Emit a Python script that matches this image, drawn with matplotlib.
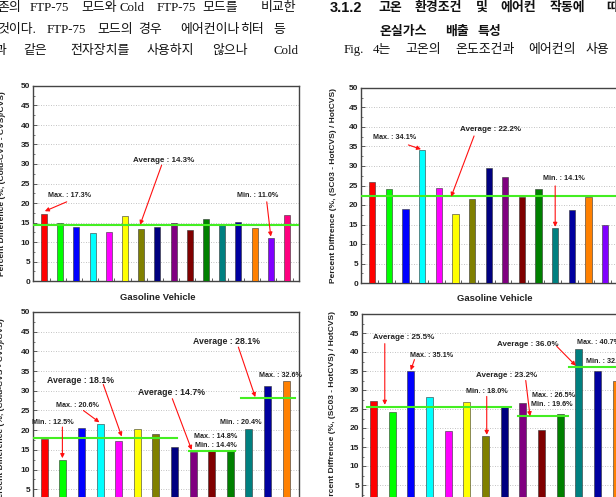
import matplotlib
matplotlib.use("Agg")
import matplotlib.pyplot as plt
from matplotlib.ticker import MultipleLocator

# bar values (%)
cold_gas = [17.3, 15.0, 13.9, 12.3, 12.5, 16.6, 13.4, 13.8,
            15.0, 13.2, 15.9, 14.5, 15.1, 13.5, 11.0, 16.9]
sc03_gas = [26.0, 24.1, 19.0, 34.1, 24.3, 17.6, 21.6, 29.5,
            27.1, 22.0, 24.0, 14.1, 18.7, 22.1, 14.8, 16.2]
cold_other = [17.7, 12.5, 20.5, 21.5, 17.3, 20.4, 19.0, 15.7,
              14.5, 14.7, 14.7, 20.4, 31.2, 32.6]
sc03_other = [27.2, 24.3, 35.1, 28.1, 19.1, 26.9, 18.0, 25.6,
              26.5, 19.6, 23.6, 40.7, 34.9, 32.4]

avg_cold_gas = 14.3
avg_sc03_gas = 22.2
avg_cold_other = [18.1, 14.7, 28.1]
avg_sc03_other = [25.5, 23.2, 36.0]

y_label_cold = "Percent Difference (%, (Cold-CVS - CVS)/CVS)"
y_label_sc03 = "Percent Diffrence (%, (SC03 - HotCVS) / HotCVS)"
x_label = "Gasoline Vehicle"

origin_colors = ["#ff0000", "#00ff00", "#0000ff", "#00ffff", "#ff00ff", "#ffff00",
                 "#808000", "#000080", "#800080", "#800000", "#008000", "#008080",
                 "#0000a0", "#ff8000", "#8000ff", "#ff0080"]

W, H = 616, 497
fig = plt.figure(figsize=(W / 100, H / 100), dpi=100)

TXT = "#222222"
SANS = ["Liberation Sans", "DejaVu Sans"]


def px_axes(left, right, top, bottom):
    return fig.add_axes([left / W, 1 - bottom / H, (right - left) / W, (bottom - top) / H])


def panel(ax, values, xlim, ylabel, label_x, show_xlabel=False, xlabel_pos=None):
    xs = list(range(1, len(values) + 1))
    ax.bar(xs, values, width=0.38, color=origin_colors[:len(values)],
           edgecolor="#333333", linewidth=0.4, zorder=3)
    ax.set_xlim(*xlim)
    ax.set_ylim(0, 50)
    ax.yaxis.set_major_locator(MultipleLocator(5))
    ax.yaxis.set_minor_locator(MultipleLocator(2.5))
    ax.set_xticks([x + 0.35 for x in xs])
    ax.set_xticklabels([])
    ax.tick_params(axis="x", direction="in", length=2, width=0.6, color="#444444")
    ax.tick_params(axis="y", which="major", direction="in", length=3, width=0.6,
                   labelsize=6, labelcolor=TXT, pad=2, color="#444444")
    ax.tick_params(axis="y", which="minor", direction="in", length=1.5, width=0.5,
                   color="#444444")
    for lab in ax.get_yticklabels():
        lab.set_fontweight("bold")
        lab.set_family(SANS)
    ax.grid(axis="y", linestyle=(0, (1, 2)), color="#b0b0b0", linewidth=0.6, zorder=0)
    for s in ax.spines.values():
        s.set_color("#444444")
        s.set_linewidth(1.0)
    ax.set_ylabel(ylabel, fontsize=6, fontweight="bold", color=TXT, family=SANS)
    ax.yaxis.set_label_coords(label_x, 0.5)
    if show_xlabel:
        ax.set_xlabel(x_label, fontsize=6.8, fontweight="bold", color=TXT, family=SANS)
        ax.xaxis.set_label_coords(*xlabel_pos)


def note(ax, text, xy, size, start=None, end=None, ha="center"):
    ax.text(xy[0], xy[1], text, fontsize=size, fontweight="bold", color=TXT,
            ha=ha, va="center", family=SANS, zorder=6)
    if start is not None:
        ax.annotate("", xy=end, xytext=start,
                    arrowprops=dict(arrowstyle="-|>", color="#ff1010", lw=0.8,
                                    mutation_scale=6, shrinkA=0, shrinkB=0), zorder=6)


GREEN = "#44ee22"

# top left: cold start, gasoline
axA = px_axes(33, 299, 86, 281)
panel(axA, cold_gas, (0.32, 16.74), y_label_cold, -0.102, True, (0.47, -0.062))
axA.axhline(avg_cold_gas, color=GREEN, lw=1.5, zorder=4)
note(axA, "Max. : 17.3%", (2.6, 22.0), 5.2, (2.4, 20.3), (1.05, 17.9))
note(axA, "Average : 14.3%", (8.36, 31.0), 5.8, (8.26, 29.7), (6.93, 14.4))
note(axA, "Min. : 11.0%", (14.19, 21.9), 5.2, (14.75, 20.3), (15.0, 11.4))

# top right: SC03, gasoline
axB = px_axes(361, 634, 88, 283)
panel(axB, sc03_gas, (0.32, 16.74), y_label_sc03, -0.088, True, (0.49, -0.056))
axB.axhline(avg_sc03_gas, color=GREEN, lw=1.5, zorder=4)
note(axB, "Max. : 34.1%", (2.33, 37.2), 5.2, (3.17, 35.4), (3.93, 34.3))
note(axB, "Average : 22.2%", (8.09, 39.4), 5.8, (7.12, 37.7), (5.74, 22.1))
note(axB, "Min. : 14.1%", (12.5, 26.7), 5.2, (12.0, 24.9), (12.0, 14.4))

# bottom left: cold start, other vehicle groups
axC = px_axes(33, 299, 312, 509)
panel(axC, cold_other, (0.39, 14.69), y_label_cold, -0.104)
for avg, (x0, x1) in zip(avg_cold_other, [(0.39, 8.12), (8.8, 11.27), (11.56, 14.46)]):
    axC.plot([x0, x1], [avg, avg], color=GREEN, lw=1.5, zorder=4)
note(axC, "Min. : 12.5%", (1.48, 22.0), 5.2, (1.97, 20.8), (1.97, 12.9))
note(axC, "Max. : 20.6%", (2.8, 26.3), 5.2, (3.1, 25.0), (3.96, 22.0))
note(axC, "Average : 18.1%", (2.96, 32.7), 6.3, (4.17, 31.6), (5.16, 18.4))
note(axC, "Average : 14.7%", (7.81, 29.6), 6.3, (7.88, 28.0), (8.92, 15.0))
note(axC, "Max. : 14.8%", (10.23, 18.5), 5.2)
note(axC, "Min. : 14.4%", (10.23, 16.2), 5.2)
note(axC, "Min. : 20.4%", (11.56, 22.0), 5.2)
note(axC, "Average : 28.1%", (10.77, 42.6), 6.3, (11.43, 41.1), (12.34, 28.4))
note(axC, "Max. : 32.6%", (13.67, 34.0), 5.2)

# bottom right: SC03, other vehicle groups
axD = px_axes(362, 629, 314, 504)
panel(axD, sc03_other, (0.39, 14.69), y_label_sc03, -0.097)
for avg, (x0, x1) in zip(avg_sc03_other, [(0.68, 8.38), (8.74, 11.41), (11.5, 14.6)]):
    axD.plot([x0, x1], [avg, avg], color=GREEN, lw=1.5, zorder=4)
note(axD, "Average : 25.5%", (2.64, 43.9), 5.8, (1.61, 42.2), (1.61, 26.1))
note(axD, "Max. : 35.1%", (4.1, 39.0), 5.2, (3.2, 38.0), (3.0, 35.2))
note(axD, "Min. : 18.0%", (7.07, 29.6), 5.2, (7.07, 28.3), (7.07, 18.2))
note(axD, "Average : 23.2%", (8.13, 33.8), 5.8, (9.16, 32.5), (9.39, 23.1))
note(axD, "Max. : 26.5%", (10.63, 28.5), 5.2)
note(axD, "Min. : 19.6%", (10.55, 26.1), 5.2)
note(axD, "Average : 36.0%", (9.25, 42.1), 5.8, (10.82, 41.5), (11.84, 36.4))
note(axD, "Max. : 40.7%", (11.89, 42.4), 5.2, ha="left")
note(axD, "Min. : 32.4%", (12.38, 37.4), 5.2, ha="left")

# surrounding page text, placed word by word (justified columns)
body = ["Liberation Serif", "Noto Sans CJK KR"]
head = ["Liberation Sans", "Noto Sans CJK KR"]
page_words = [
    (8, body, "normal", [(-3, "존의"), (30, "FTP-75"), (81, "모드와"), (119, "Cold"),
                         (157, "FTP-75"), (202, "모드를"), (261, "비교한")]),
    (30, body, "normal", [(-3, "것이다."), (47, "FTP-75"), (97, "모드의"), (138, "경우"),
                          (180, "에어컨이나"), (240, "히터"), (273, "등")]),
    (51, body, "normal", [(-6, "과"), (23, "같은"), (70, "전자장치를"), (147, "사용하지"),
                          (212, "않으나"), (273, "Cold")]),
    (8, head, "bold", [(330, "3.1.2"), (378, "고온"), (415, "환경조건"), (476, "및"),
                       (500, "에어컨"), (550, "작동에"), (606, "따")]),
    (32, head, "bold", [(380, "온실가스"), (445, "배출"), (478, "특성")]),
    (50, body, "normal", [(344, "Fig."), (373, "4는"), (405, "고온의"), (455, "온도조건과"),
                          (528, "에어컨의"), (586, "사용")]),
]
for y, fam, weight, words in page_words:
    for x, w in words:
        size = 10.5 if w == "3.1.2" else 9.3
        fig.text(x / W, 1 - y / H, w, fontsize=size, family=fam, fontweight=weight,
                 color="#111111", ha="left", va="center")

fig.savefig("out.png", dpi=100)
